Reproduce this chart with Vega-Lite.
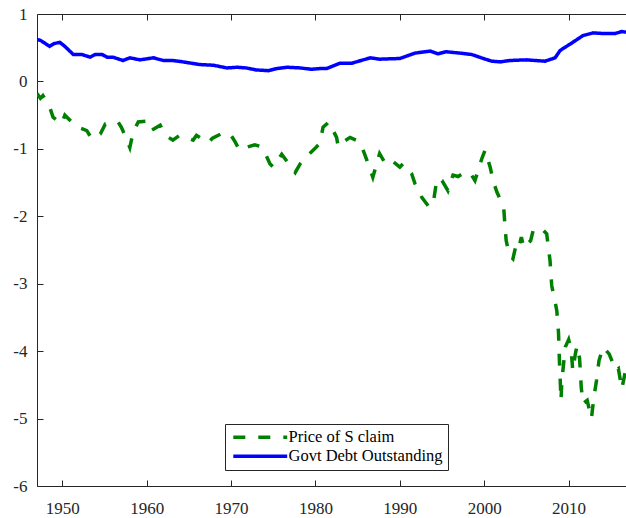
{
  "$schema": "https://vega.github.io/schema/vega-lite/v6.json",
  "width": 589,
  "height": 472,
  "autosize": {"type": "none"},
  "padding": {"left": 37, "top": 14, "right": 0, "bottom": 32},
  "background": "white",
  "config": {
    "view": {"stroke": null},
    "font": "Times New Roman",
    "style": {"guide-label": {"font": "Times New Roman"}},
    "axis": {
      "grid": false,
      "domainColor": "#262626",
      "tickColor": "#262626",
      "labelColor": "#262626",
      "labelFont": "Times New Roman",
      "labelFontSize": 17,
      "tickSize": -6,
      "title": null
    },
    "axisX": {"labelFont": "Times New Roman"},
    "axisY": {"labelFont": "Times New Roman"},
    "legend": {
      "labelFont": "Liberation Serif"
    }
  },
  "data": {
    "values": [
      {"year": 1947.0, "series": "Govt Debt Outstanding", "value": 0.62},
      {"year": 1947.4, "series": "Govt Debt Outstanding", "value": 0.61},
      {"year": 1948.5, "series": "Govt Debt Outstanding", "value": 0.52},
      {"year": 1949.0, "series": "Govt Debt Outstanding", "value": 0.56},
      {"year": 1949.7, "series": "Govt Debt Outstanding", "value": 0.58},
      {"year": 1950.3, "series": "Govt Debt Outstanding", "value": 0.52},
      {"year": 1951.3, "series": "Govt Debt Outstanding", "value": 0.40},
      {"year": 1952.3, "series": "Govt Debt Outstanding", "value": 0.40},
      {"year": 1953.3, "series": "Govt Debt Outstanding", "value": 0.36},
      {"year": 1953.9, "series": "Govt Debt Outstanding", "value": 0.40},
      {"year": 1954.7, "series": "Govt Debt Outstanding", "value": 0.40},
      {"year": 1955.3, "series": "Govt Debt Outstanding", "value": 0.36},
      {"year": 1956.0, "series": "Govt Debt Outstanding", "value": 0.36},
      {"year": 1957.2, "series": "Govt Debt Outstanding", "value": 0.31},
      {"year": 1958.0, "series": "Govt Debt Outstanding", "value": 0.35},
      {"year": 1959.2, "series": "Govt Debt Outstanding", "value": 0.32},
      {"year": 1960.8, "series": "Govt Debt Outstanding", "value": 0.35},
      {"year": 1962.0, "series": "Govt Debt Outstanding", "value": 0.31},
      {"year": 1963.1, "series": "Govt Debt Outstanding", "value": 0.31},
      {"year": 1964.3, "series": "Govt Debt Outstanding", "value": 0.29},
      {"year": 1966.3, "series": "Govt Debt Outstanding", "value": 0.25},
      {"year": 1967.9, "series": "Govt Debt Outstanding", "value": 0.24},
      {"year": 1969.5, "series": "Govt Debt Outstanding", "value": 0.20},
      {"year": 1970.7, "series": "Govt Debt Outstanding", "value": 0.21},
      {"year": 1971.8, "series": "Govt Debt Outstanding", "value": 0.20},
      {"year": 1973.0, "series": "Govt Debt Outstanding", "value": 0.17},
      {"year": 1974.4, "series": "Govt Debt Outstanding", "value": 0.16},
      {"year": 1975.4, "series": "Govt Debt Outstanding", "value": 0.19},
      {"year": 1976.6, "series": "Govt Debt Outstanding", "value": 0.21},
      {"year": 1978.2, "series": "Govt Debt Outstanding", "value": 0.20},
      {"year": 1979.5, "series": "Govt Debt Outstanding", "value": 0.18},
      {"year": 1980.5, "series": "Govt Debt Outstanding", "value": 0.19},
      {"year": 1981.3, "series": "Govt Debt Outstanding", "value": 0.19},
      {"year": 1982.9, "series": "Govt Debt Outstanding", "value": 0.27},
      {"year": 1984.3, "series": "Govt Debt Outstanding", "value": 0.27},
      {"year": 1986.5, "series": "Govt Debt Outstanding", "value": 0.35},
      {"year": 1987.6, "series": "Govt Debt Outstanding", "value": 0.33},
      {"year": 1990.0, "series": "Govt Debt Outstanding", "value": 0.34},
      {"year": 1991.8, "series": "Govt Debt Outstanding", "value": 0.42},
      {"year": 1993.6, "series": "Govt Debt Outstanding", "value": 0.45},
      {"year": 1994.5, "series": "Govt Debt Outstanding", "value": 0.41},
      {"year": 1995.5, "series": "Govt Debt Outstanding", "value": 0.44},
      {"year": 1997.1, "series": "Govt Debt Outstanding", "value": 0.42},
      {"year": 1998.5, "series": "Govt Debt Outstanding", "value": 0.40},
      {"year": 1999.9, "series": "Govt Debt Outstanding", "value": 0.34},
      {"year": 2000.9, "series": "Govt Debt Outstanding", "value": 0.30},
      {"year": 2001.9, "series": "Govt Debt Outstanding", "value": 0.29},
      {"year": 2003.0, "series": "Govt Debt Outstanding", "value": 0.31},
      {"year": 2005.0, "series": "Govt Debt Outstanding", "value": 0.32},
      {"year": 2007.2, "series": "Govt Debt Outstanding", "value": 0.30},
      {"year": 2008.4, "series": "Govt Debt Outstanding", "value": 0.35},
      {"year": 2009.0, "series": "Govt Debt Outstanding", "value": 0.46},
      {"year": 2010.5, "series": "Govt Debt Outstanding", "value": 0.58},
      {"year": 2011.7, "series": "Govt Debt Outstanding", "value": 0.68},
      {"year": 2012.9, "series": "Govt Debt Outstanding", "value": 0.72},
      {"year": 2014.1, "series": "Govt Debt Outstanding", "value": 0.71},
      {"year": 2015.5, "series": "Govt Debt Outstanding", "value": 0.71},
      {"year": 2016.3, "series": "Govt Debt Outstanding", "value": 0.74},
      {"year": 2016.8, "series": "Govt Debt Outstanding", "value": 0.73},

      {"year": 1947.0, "series": "Price of S claim", "value": -0.18},
      {"year": 1947.4, "series": "Price of S claim", "value": -0.25},
      {"year": 1947.7, "series": "Price of S claim", "value": -0.21},
      {"year": 1948.5, "series": "Price of S claim", "value": -0.38},
      {"year": 1948.9, "series": "Price of S claim", "value": -0.53},
      {"year": 1949.9, "series": "Price of S claim", "value": -0.63},
      {"year": 1950.3, "series": "Price of S claim", "value": -0.50},
      {"year": 1951.1, "series": "Price of S claim", "value": -0.60},
      {"year": 1951.7, "series": "Price of S claim", "value": -0.67},
      {"year": 1952.9, "series": "Price of S claim", "value": -0.73},
      {"year": 1953.5, "series": "Price of S claim", "value": -0.85},
      {"year": 1954.5, "series": "Price of S claim", "value": -0.78},
      {"year": 1955.1, "series": "Price of S claim", "value": -0.63},
      {"year": 1955.8, "series": "Price of S claim", "value": -0.61},
      {"year": 1956.6, "series": "Price of S claim", "value": -0.60},
      {"year": 1957.0, "series": "Price of S claim", "value": -0.68},
      {"year": 1957.6, "series": "Price of S claim", "value": -0.85},
      {"year": 1958.0, "series": "Price of S claim", "value": -0.98},
      {"year": 1958.4, "series": "Price of S claim", "value": -0.75},
      {"year": 1959.0, "series": "Price of S claim", "value": -0.60},
      {"year": 1960.0, "series": "Price of S claim", "value": -0.59},
      {"year": 1960.5, "series": "Price of S claim", "value": -0.73},
      {"year": 1961.6, "series": "Price of S claim", "value": -0.65},
      {"year": 1962.2, "series": "Price of S claim", "value": -0.80},
      {"year": 1963.1, "series": "Price of S claim", "value": -0.87},
      {"year": 1963.9, "series": "Price of S claim", "value": -0.80},
      {"year": 1965.5, "series": "Price of S claim", "value": -0.87},
      {"year": 1965.9, "series": "Price of S claim", "value": -0.80},
      {"year": 1967.3, "series": "Price of S claim", "value": -0.91},
      {"year": 1967.8, "series": "Price of S claim", "value": -0.84},
      {"year": 1969.1, "series": "Price of S claim", "value": -0.76},
      {"year": 1969.9, "series": "Price of S claim", "value": -0.78},
      {"year": 1970.5, "series": "Price of S claim", "value": -0.90},
      {"year": 1971.0, "series": "Price of S claim", "value": -1.02},
      {"year": 1972.0, "series": "Price of S claim", "value": -0.97},
      {"year": 1972.8, "series": "Price of S claim", "value": -0.94},
      {"year": 1973.6, "series": "Price of S claim", "value": -0.97},
      {"year": 1973.9, "series": "Price of S claim", "value": -1.03},
      {"year": 1974.6, "series": "Price of S claim", "value": -1.22},
      {"year": 1975.0, "series": "Price of S claim", "value": -1.27},
      {"year": 1976.0, "series": "Price of S claim", "value": -1.08},
      {"year": 1976.7, "series": "Price of S claim", "value": -1.20},
      {"year": 1977.6, "series": "Price of S claim", "value": -1.35},
      {"year": 1978.2, "series": "Price of S claim", "value": -1.22},
      {"year": 1979.3, "series": "Price of S claim", "value": -1.07},
      {"year": 1979.9, "series": "Price of S claim", "value": -1.00},
      {"year": 1980.5, "series": "Price of S claim", "value": -0.92},
      {"year": 1980.9, "series": "Price of S claim", "value": -0.68},
      {"year": 1981.6, "series": "Price of S claim", "value": -0.60},
      {"year": 1982.5, "series": "Price of S claim", "value": -0.83},
      {"year": 1982.7, "series": "Price of S claim", "value": -0.97},
      {"year": 1983.5, "series": "Price of S claim", "value": -0.88},
      {"year": 1984.1, "series": "Price of S claim", "value": -0.83},
      {"year": 1985.3, "series": "Price of S claim", "value": -0.90},
      {"year": 1986.1, "series": "Price of S claim", "value": -1.17},
      {"year": 1986.8, "series": "Price of S claim", "value": -1.42},
      {"year": 1987.6, "series": "Price of S claim", "value": -1.07},
      {"year": 1988.2, "series": "Price of S claim", "value": -1.20},
      {"year": 1988.8, "series": "Price of S claim", "value": -1.15},
      {"year": 1990.0, "series": "Price of S claim", "value": -1.27},
      {"year": 1990.4, "series": "Price of S claim", "value": -1.22},
      {"year": 1991.4, "series": "Price of S claim", "value": -1.37},
      {"year": 1991.8, "series": "Price of S claim", "value": -1.52},
      {"year": 1992.6, "series": "Price of S claim", "value": -1.72},
      {"year": 1993.5, "series": "Price of S claim", "value": -1.87},
      {"year": 1994.0, "series": "Price of S claim", "value": -1.77},
      {"year": 1994.4, "series": "Price of S claim", "value": -1.44},
      {"year": 1995.0, "series": "Price of S claim", "value": -1.47},
      {"year": 1995.7, "series": "Price of S claim", "value": -1.62},
      {"year": 1996.3, "series": "Price of S claim", "value": -1.39},
      {"year": 1996.9, "series": "Price of S claim", "value": -1.41},
      {"year": 1997.7, "series": "Price of S claim", "value": -1.35},
      {"year": 1998.3, "series": "Price of S claim", "value": -1.35},
      {"year": 1998.9, "series": "Price of S claim", "value": -1.47},
      {"year": 1999.2, "series": "Price of S claim", "value": -1.35},
      {"year": 1999.7, "series": "Price of S claim", "value": -1.15},
      {"year": 2000.1, "series": "Price of S claim", "value": -1.02},
      {"year": 2000.7, "series": "Price of S claim", "value": -1.27},
      {"year": 2001.1, "series": "Price of S claim", "value": -1.49},
      {"year": 2001.5, "series": "Price of S claim", "value": -1.64},
      {"year": 2002.3, "series": "Price of S claim", "value": -1.86},
      {"year": 2002.5, "series": "Price of S claim", "value": -2.21},
      {"year": 2002.6, "series": "Price of S claim", "value": -2.36},
      {"year": 2003.0, "series": "Price of S claim", "value": -2.58},
      {"year": 2003.4, "series": "Price of S claim", "value": -2.63},
      {"year": 2003.8, "series": "Price of S claim", "value": -2.41},
      {"year": 2004.1, "series": "Price of S claim", "value": -2.46},
      {"year": 2004.4, "series": "Price of S claim", "value": -2.31},
      {"year": 2004.7, "series": "Price of S claim", "value": -2.47},
      {"year": 2005.5, "series": "Price of S claim", "value": -2.36},
      {"year": 2005.8, "series": "Price of S claim", "value": -2.21},
      {"year": 2006.7, "series": "Price of S claim", "value": -2.17},
      {"year": 2007.4, "series": "Price of S claim", "value": -2.26},
      {"year": 2007.8, "series": "Price of S claim", "value": -2.66},
      {"year": 2008.0, "series": "Price of S claim", "value": -3.03},
      {"year": 2008.4, "series": "Price of S claim", "value": -3.27},
      {"year": 2008.6, "series": "Price of S claim", "value": -3.40},
      {"year": 2008.8, "series": "Price of S claim", "value": -3.72},
      {"year": 2008.9, "series": "Price of S claim", "value": -4.11},
      {"year": 2009.1, "series": "Price of S claim", "value": -4.73},
      {"year": 2009.2, "series": "Price of S claim", "value": -4.44},
      {"year": 2009.4, "series": "Price of S claim", "value": -4.19},
      {"year": 2009.6, "series": "Price of S claim", "value": -3.94},
      {"year": 2010.0, "series": "Price of S claim", "value": -3.83},
      {"year": 2010.3, "series": "Price of S claim", "value": -3.99},
      {"year": 2010.5, "series": "Price of S claim", "value": -4.29},
      {"year": 2010.8, "series": "Price of S claim", "value": -4.04},
      {"year": 2011.0, "series": "Price of S claim", "value": -3.92},
      {"year": 2011.3, "series": "Price of S claim", "value": -4.11},
      {"year": 2011.5, "series": "Price of S claim", "value": -4.54},
      {"year": 2011.7, "series": "Price of S claim", "value": -4.78},
      {"year": 2012.2, "series": "Price of S claim", "value": -4.73},
      {"year": 2012.7, "series": "Price of S claim", "value": -5.00},
      {"year": 2013.0, "series": "Price of S claim", "value": -4.68},
      {"year": 2013.3, "series": "Price of S claim", "value": -4.44},
      {"year": 2013.6, "series": "Price of S claim", "value": -4.14},
      {"year": 2014.1, "series": "Price of S claim", "value": -3.94},
      {"year": 2014.8, "series": "Price of S claim", "value": -4.04},
      {"year": 2015.6, "series": "Price of S claim", "value": -4.29},
      {"year": 2015.9, "series": "Price of S claim", "value": -4.26},
      {"year": 2016.3, "series": "Price of S claim", "value": -4.56},
      {"year": 2016.8, "series": "Price of S claim", "value": -4.26}
    ]
  },
  "encoding": {
    "y": {
      "field": "value",
      "type": "quantitative",
      "scale": {"domain": [-6, 1], "nice": false, "zero": false},
      "axis": {
        "values": [-6, -5, -4, -3, -2, -1, 0, 1],
        "labelExpr": "'' + datum.value",
        "labelFont": "Times New Roman",
        "labelFontSize": 17,
        "labelPadding": 16
      }
    },
    "color": {
      "field": "series",
      "type": "nominal",
      "scale": {
        "domain": ["Price of S claim", "Govt Debt Outstanding"],
        "range": ["#008000", "#0000FF"]
      },
      "legend": {
        "title": null,
        "orient": "none",
        "legendX": 188,
        "legendY": 410,
        "direction": "vertical",
        "fillColor": "white",
        "strokeColor": "#262626",
        "padding": 5,
        "rowPadding": 2,
        "symbolType": "M-4.9,0H4.9",
        "symbolSize": 121,
        "symbolOffset": 22,
        "symbolStrokeWidth": 3.5,
        "labelFont": "Liberation Serif",
        "labelFontSize": 16.5,
        "labelColor": "#000000",
        "labelOffset": 20,
        "cornerRadius": 0
      }
    },
    "strokeDash": {
      "field": "series",
      "type": "nominal",
      "scale": {
        "domain": ["Price of S claim", "Govt Debt Outstanding"],
        "range": [[12, 13], [1, 0]]
      },
      "legend": null
    }
  },
  "layer": [
    {
      "transform": [{"filter": "datum.series === 'Price of S claim'"}],
      "mark": {"type": "line", "strokeWidth": 3.5, "clip": true},
      "encoding": {
        "x": {
          "field": "year",
          "type": "quantitative",
          "scale": {"domain": [1947, 2016.8], "nice": false, "zero": false},
          "axis": {
            "orient": "bottom",
            "values": [1950, 1960, 1970, 1980, 1990, 2000, 2010],
            "labelExpr": "'' + datum.value",
            "labelFont": "Times New Roman",
            "labelFontSize": 17,
            "labelPadding": 20
          }
        }
      }
    },
    {
      "transform": [{"filter": "datum.series === 'Govt Debt Outstanding'"}],
      "mark": {"type": "line", "strokeWidth": 3.5, "clip": true},
      "encoding": {
        "x": {
          "field": "year",
          "type": "quantitative",
          "scale": {"domain": [1947, 2016.8], "nice": false, "zero": false},
          "axis": {
            "orient": "top",
            "values": [1950, 1960, 1970, 1980, 1990, 2000, 2010],
            "labels": false
          }
        }
      }
    }
  ],
  "resolve": {"axis": {"x": "independent"}}
}
